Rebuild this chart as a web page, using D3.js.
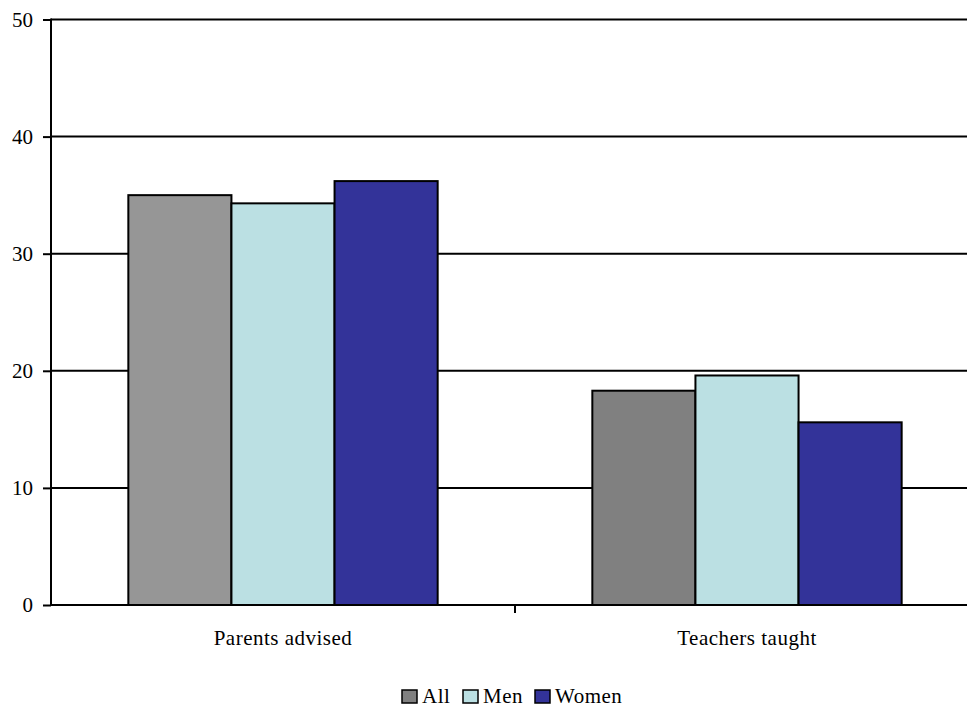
<!DOCTYPE html>
<html>
<head>
<meta charset="utf-8">
<script src="https://cdn.jsdelivr.net/npm/d3@7"></script>
<style>
	body { margin: 0; background: #fff; }
</style>
</head>
<body>
<div id="chart-box"></div>
<script>
// chart data
const categories = ["Parents advised", "Teachers taught"];
const seriesNames = ["All", "Men", "Women"];
const allValues = [35.0, 18.3];
const menValues = [34.3, 19.6];
const womenValues = [36.2, 15.6];
const yTicks = [0, 10, 20, 30, 40, 50];

const serif = "Liberation Serif, Times New Roman, serif";

const chartMaker =
{
	draw: function ()
	{
		const width = 967, height = 708;
		const padd = {left: 51, right: -12, top: 19.5, bottom: 103};
		const series = [allValues, menValues, womenValues];
		// the "All" bar is a lighter grey in the first group
		const fills = [["#969696", "#808080"], ["#bbe0e3", "#bbe0e3"], ["#333399", "#333399"]];
		const legendFills = ["#808080", "#bbe0e3", "#333399"];

		const svg = d3.select("#chart-box")
		.append("svg")
		.attr("width", width)
		.attr("height", height);

		//scales
		const yScale = d3.scaleLinear()
		.domain([0, 50])
		.range([height - padd.bottom, padd.top]);

		const xScale = d3.scaleBand()
		.domain(categories)
		.range([padd.left, width - padd.right]);

		const inner = d3.scaleBand()
		.domain(seriesNames)
		.range([0, xScale.bandwidth()])
		.paddingOuter(0.75);

		//gridlines
		svg.append("g")
		.selectAll("line")
		.data(yTicks.filter(d => d > 0))
		.enter()
		.append("line")
		.attr("x1", padd.left)
		.attr("x2", width)
		.attr("y1", d => yScale(d))
		.attr("y2", d => yScale(d))
		.attr("stroke", "#000")
		.attr("stroke-width", 2);

		//bars
		series.forEach(function (vals, s)
		{
			svg.append("g")
			.selectAll("rect")
			.data(vals)
			.enter()
			.append("rect")
			.attr("x", (d, i) => xScale(categories[i]) + inner(seriesNames[s]))
			.attr("y", d => yScale(d))
			.attr("width", inner.bandwidth())
			.attr("height", d => yScale(0) - yScale(d))
			.attr("fill", (d, i) => fills[s][i])
			.attr("stroke", "#000")
			.attr("stroke-width", 2);
		});

		//Y axis
		const yAxis = d3.axisLeft(yScale)
		.tickValues(yTicks)
		.tickSize(8)
		.tickPadding(10);

		const yG = svg.append("g")
		.attr("transform", `translate(${padd.left},0)`)
		.call(yAxis)
		.attr("font-family", serif)
		.attr("font-size", 21);
		yG.select(".domain").attr("stroke-width", 2).attr("d", `M0,${yScale(0) + 1}V${yScale(50) - 1}`);
		yG.selectAll(".tick line").attr("stroke-width", 2);
		yG.selectAll(".tick text").attr("fill", "#000");

		//X axis
		const xAxis = d3.axisBottom(xScale)
		.tickSize(0)
		.tickPadding(25);

		const xG = svg.append("g")
		.attr("transform", `translate(0,${yScale(0)})`)
		.call(xAxis)
		.attr("font-family", serif)
		.attr("font-size", 21);
		xG.select(".domain").attr("stroke-width", 2).attr("d", `M${padd.left - 1},0H${width}`);
		xG.selectAll(".tick text")
		.attr("fill", "#000")
		.attr("letter-spacing", 0.5);

		// category separator ticks
		xG.append("g")
		.selectAll("line")
		.data(categories.slice(1))
		.enter()
		.append("line")
		.attr("x1", d => xScale(d))
		.attr("x2", d => xScale(d))
		.attr("y1", 0)
		.attr("y2", 8)
		.attr("stroke", "#000")
		.attr("stroke-width", 2);

		//legend (kept just inside the bottom edge)
		const legendX = [402, 463, 535];
		const legend = svg.append("g")
		.attr("transform", "translate(0,690)")
		.attr("font-family", serif)
		.attr("font-size", 21);

		const items = legend.selectAll("g")
		.data(seriesNames)
		.enter()
		.append("g")
		.attr("transform", (d, i) => `translate(${legendX[i]},0)`);

		items.append("rect")
		.attr("width", 15)
		.attr("height", 13)
		.attr("fill", (d, i) => legendFills[i])
		.attr("stroke", "#000")
		.attr("stroke-width", 1.5);

		items.append("text")
		.attr("x", 20)
		.attr("y", 13)
		.attr("fill", "#000")
		.attr("letter-spacing", 0.5)
		.text(d => d);
	}
};

document.addEventListener("DOMContentLoaded", function ()
{
	chartMaker.draw();
});
</script>
</body>
</html>
